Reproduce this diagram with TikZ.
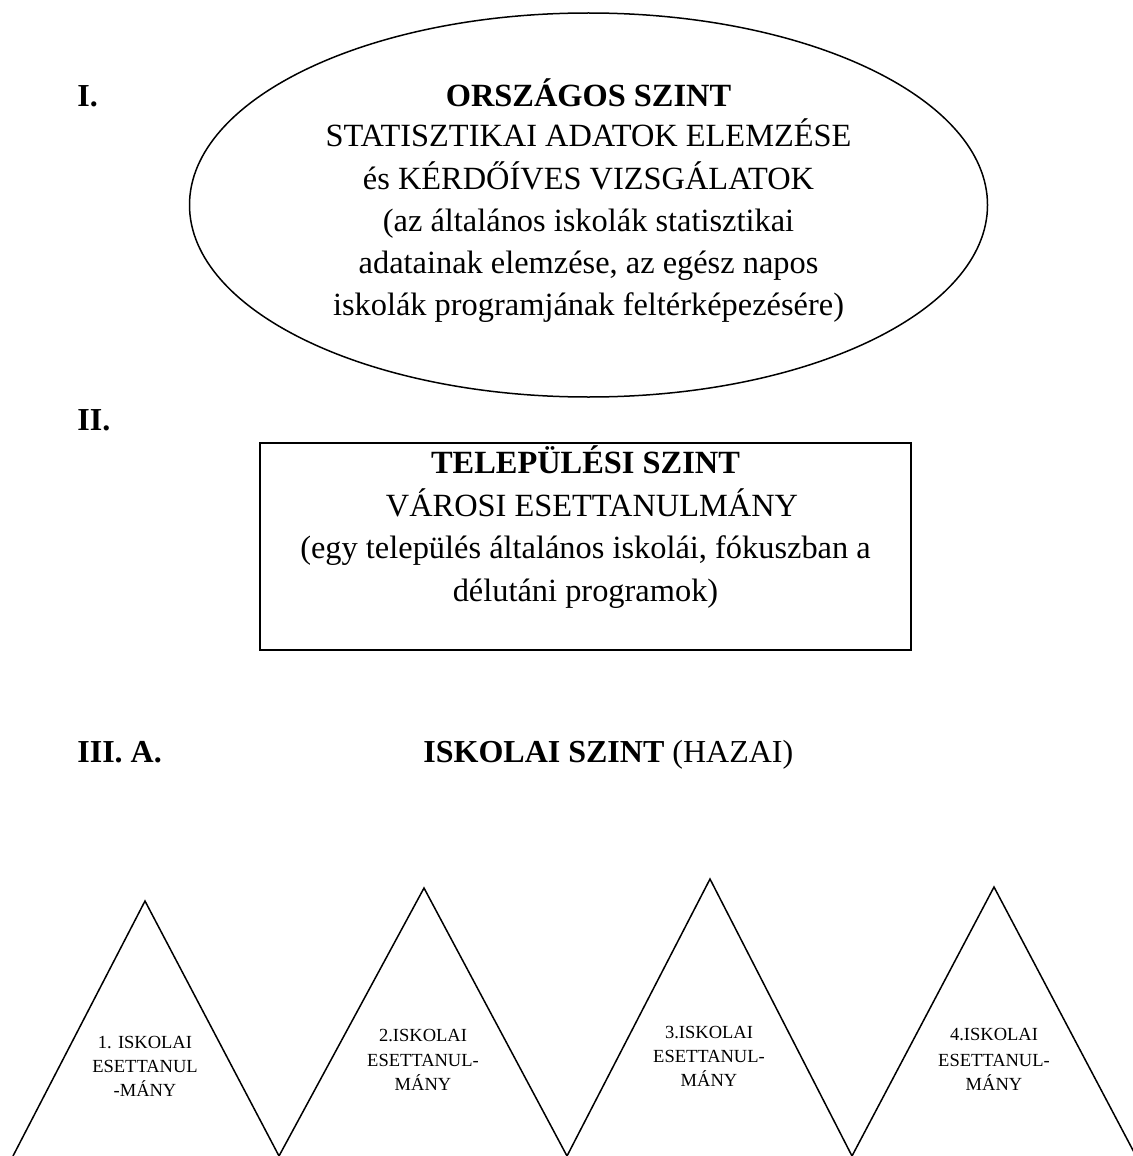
\documentclass[tikz,border=0pt]{standalone}
\usepackage{fontspec}
\setmainfont{Liberation Serif}
\usetikzlibrary{shapes.geometric}
\begin{document}
\begin{tikzpicture}[x=0.5pt,y=-0.5pt,
  bigtext/.style={font=\fontsize{16.2}{21}\selectfont, inner sep=0pt, anchor=base},
  boldtext/.style={bigtext, font=\fontsize{16.2}{21}\selectfont\bfseries},
  levellabel/.style={font=\fontsize{16}{21}\selectfont\bfseries, inner sep=0pt, anchor=base west},
  smalltext/.style={font=\fontsize{9.25}{11.75}\selectfont, inner sep=0pt, anchor=base},
  outline/.style={draw=black, line width=0.75pt},
  peak/.style={draw=black, line width=0.75pt, line join=miter}]
\useasboundingbox (0,0) rectangle (1132,1156);

% level labels
\node[levellabel] (l1) at (77,107) {I.};
\node[levellabel] (l2) at (77,430) {II.};
\node[levellabel] (l3) at (77,762) {III. A.};

% national level ellipse
\node[outline, ellipse, minimum width=399pt, minimum height=192pt, inner sep=0pt] (ell) at (588.5,205) {};
\node[boldtext] (e1) at (588.5,106) {ORSZÁGOS SZINT};
\node[bigtext] (e2) at (588.5,147) {STATISZTIKAI ADATOK ELEMZÉSE};
\node[bigtext] (e3) at (588.5,189) {és KÉRDŐÍVES VIZSGÁLATOK};
\node[bigtext] (e4) at (588.5,231) {(az általános iskolák statisztikai};
\node[bigtext] (e5) at (588.5,273) {adatainak elemzése, az egész napos};
\node[bigtext] (e6) at (588.5,315) {iskolák programjának feltérképezésére)};

% settlement level box
\node[outline, line width=1pt, rectangle, minimum width=325.5pt, minimum height=103.5pt, inner sep=0pt] (box) at (585.5,546.5) {};
\node[boldtext] (b1) at (585.5,473) {TELEPÜLÉSI SZINT};
\node[bigtext] (b2) at (592,516) {VÁROSI ESETTANULMÁNY};
\node[bigtext] (b3) at (585.5,558) {(egy település általános iskolái, fókuszban a};
\node[bigtext] (b4) at (585.5,601) {délutáni programok)};

% school level heading
\node[inner sep=0pt, anchor=base west, font=\fontsize{16}{21}\selectfont] (s1) at (423,762) {\textbf{ISKOLAI SZINT} (HAZAI)};

% triangles
\draw[peak] (13,1156) -- (145,901) -- (279,1156);
\draw[peak] (279,1156) -- (424,888) -- (567,1156);
\draw[peak] (567,1156) -- (710,879) -- (852,1156);
\draw[peak] (852,1156) -- (994,887) -- (1136,1156);

\node[smalltext] (t1a) at (145,1048) {1. ISKOLAI};
\node[smalltext] (t1b) at (145,1072) {ESETTANUL};
\node[smalltext] (t1c) at (145,1096) {-MÁNY};

\node[smalltext] (t2a) at (423,1041) {2.ISKOLAI};
\node[smalltext] (t2b) at (423,1066) {ESETTANUL-};
\node[smalltext] (t2c) at (423,1090) {MÁNY};

\node[smalltext] (t3a) at (709,1038) {3.ISKOLAI};
\node[smalltext] (t3b) at (709,1062) {ESETTANUL-};
\node[smalltext] (t3c) at (709,1086) {MÁNY};

\node[smalltext] (t4a) at (994,1040) {4.ISKOLAI};
\node[smalltext] (t4b) at (994,1066) {ESETTANUL-};
\node[smalltext] (t4c) at (994,1090) {MÁNY};
\end{tikzpicture}
\end{document}
